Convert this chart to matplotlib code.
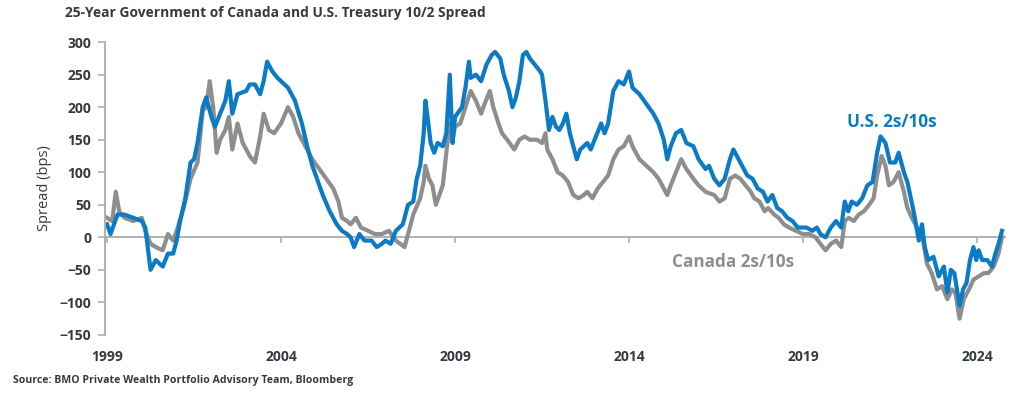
import matplotlib.pyplot as plt
import numpy as np

# decimal years / spread in bps
us_years = [1999.0, 1999.1, 1999.3, 1999.5, 1999.75, 2000.0, 2000.1, 2000.25, 2000.4, 2000.6,
            2000.75, 2000.9, 2001.0, 2001.1, 2001.25, 2001.4, 2001.5, 2001.6, 2001.75, 2001.85,
            2002.0, 2002.1, 2002.25, 2002.4, 2002.5, 2002.6, 2002.75, 2003.0, 2003.1, 2003.25,
            2003.4, 2003.5, 2003.6, 2003.75, 2003.9, 2004.0, 2004.2, 2004.4, 2004.6, 2004.75,
            2004.9, 2005.0, 2005.2, 2005.4, 2005.6, 2005.75, 2005.9, 2006.0, 2006.1, 2006.25,
            2006.4, 2006.6, 2006.75, 2006.9, 2007.0, 2007.15, 2007.3, 2007.5, 2007.65, 2007.8,
            2007.9, 2008.0, 2008.1, 2008.15, 2008.2, 2008.3, 2008.4, 2008.5, 2008.65, 2008.75,
            2008.85, 2008.93, 2009.0, 2009.2, 2009.3, 2009.4, 2009.45, 2009.6, 2009.75, 2009.9,
            2010.05, 2010.15, 2010.3, 2010.4, 2010.55, 2010.65, 2010.75, 2010.85, 2010.95, 2011.05,
            2011.15, 2011.3, 2011.45, 2011.5, 2011.6, 2011.7, 2011.8, 2011.9, 2012.0, 2012.1,
            2012.2, 2012.3, 2012.4, 2012.5, 2012.6, 2012.8, 2012.9, 2013.05, 2013.2, 2013.3,
            2013.4, 2013.55, 2013.7, 2013.85, 2014.0, 2014.1, 2014.3, 2014.5, 2014.7, 2014.85,
            2015.0, 2015.1, 2015.2, 2015.35, 2015.5, 2015.65, 2015.85, 2016.0, 2016.2, 2016.3,
            2016.45, 2016.6, 2016.75, 2016.9, 2017.0, 2017.1, 2017.25, 2017.4, 2017.55, 2017.7,
            2017.85, 2017.98, 2018.12, 2018.26, 2018.4, 2018.55, 2018.7, 2018.85, 2019.0, 2019.1,
            2019.27, 2019.4, 2019.5, 2019.65, 2019.8, 2019.95, 2020.1, 2020.2, 2020.3, 2020.4,
            2020.55, 2020.7, 2020.85, 2021.0, 2021.13, 2021.23, 2021.37, 2021.5, 2021.65, 2021.75,
            2021.9, 2022.0, 2022.1, 2022.18, 2022.28, 2022.33, 2022.42, 2022.5, 2022.6, 2022.75,
            2022.9, 2023.05, 2023.15, 2023.25, 2023.35, 2023.5, 2023.6, 2023.7, 2023.8, 2023.9,
            2023.98, 2024.05, 2024.15, 2024.3, 2024.43, 2024.53, 2024.62, 2024.72]
us_spread = [20, 5, 35, 35, 30, 25, 15, -50, -35, -45,
             -25, -25, -5, 25, 60, 115, 120, 145, 200, 215,
             185, 170, 190, 210, 240, 190, 220, 225, 235, 235,
             220, 240, 270, 255, 245, 240, 230, 210, 175, 140,
             110, 95, 65, 40, 20, 10, 5, 0, -15, 5,
             -5, -5, -15, -10, -5, -10, 10, 20, 50, 55,
             90, 110, 160, 210, 190, 145, 130, 145, 140, 160,
             250, 145, 185, 200, 230, 270, 245, 250, 240, 265,
             280, 285, 275, 250, 225, 200, 215, 240, 280, 285,
             275, 265, 255, 250, 210, 165, 185, 170, 165, 175,
             190, 160, 140, 120, 135, 145, 135, 155, 175, 160,
             175, 225, 240, 235, 255, 230, 220, 205, 190, 175,
             150, 120, 140, 160, 165, 145, 140, 120, 105, 110,
             90, 80, 90, 120, 135, 125, 110, 95, 90, 75,
             70, 55, 65, 45, 40, 30, 25, 15, 15, 15,
             10, 15, 5, 0, 15, 25, 15, 55, 40, 55,
             50, 60, 80, 85, 130, 155, 145, 115, 115, 130,
             100, 85, 60, 40, 10, -5, 20, -15, -35, -30,
             -60, -45, -85, -50, -55, -105, -80, -70, -35, -15,
             -35, -20, -35, -35, -45, -25, -10, 10]

can_years = [1999.0, 1999.15, 1999.25, 1999.35, 1999.5, 1999.75, 2000.0, 2000.1, 2000.25, 2000.4,
             2000.6, 2000.75, 2000.9, 2001.0, 2001.2, 2001.4, 2001.6, 2001.75, 2001.85, 2001.95,
             2002.05, 2002.15, 2002.25, 2002.4, 2002.5, 2002.6, 2002.75, 2002.9, 2003.1, 2003.25,
             2003.4, 2003.5, 2003.65, 2003.8, 2004.0, 2004.2, 2004.35, 2004.5, 2004.7, 2004.9,
             2005.1, 2005.3, 2005.5, 2005.65, 2005.75, 2005.9, 2006.0, 2006.15, 2006.3, 2006.5,
             2006.7, 2006.9, 2007.1, 2007.3, 2007.55, 2007.7, 2007.8, 2008.0, 2008.1, 2008.15,
             2008.25, 2008.35, 2008.45, 2008.55, 2008.65, 2008.75, 2008.85, 2008.93, 2009.0, 2009.15,
             2009.3, 2009.45, 2009.6, 2009.75, 2009.85, 2010.0, 2010.1, 2010.25, 2010.35, 2010.5,
             2010.7, 2010.85, 2011.0, 2011.15, 2011.35, 2011.5, 2011.6, 2011.65, 2011.8, 2011.95,
             2012.1, 2012.25, 2012.4, 2012.55, 2012.7, 2012.8, 2012.95, 2013.1, 2013.25, 2013.4,
             2013.55, 2013.7, 2013.85, 2014.0, 2014.1, 2014.3, 2014.5, 2014.7, 2014.85, 2015.0,
             2015.1, 2015.2, 2015.35, 2015.5, 2015.65, 2015.85, 2016.0, 2016.2, 2016.45, 2016.6,
             2016.75, 2016.9, 2017.05, 2017.2, 2017.35, 2017.5, 2017.6, 2017.75, 2017.9, 2018.0,
             2018.17, 2018.3, 2018.45, 2018.6, 2018.8, 2019.0, 2019.17, 2019.36, 2019.5, 2019.65,
             2019.8, 2019.95, 2020.1, 2020.2, 2020.32, 2020.46, 2020.6, 2020.75, 2020.9, 2021.03,
             2021.13, 2021.26, 2021.37, 2021.47, 2021.6, 2021.75, 2021.9, 2022.0, 2022.13, 2022.28,
             2022.42, 2022.56, 2022.7, 2022.85, 2023.0, 2023.15, 2023.28, 2023.38, 2023.5, 2023.62,
             2023.77, 2023.9, 2024.05, 2024.2, 2024.33, 2024.48, 2024.62, 2024.72]
can_spread = [30, 25, 70, 40, 30, 25, 30, 10, -10, -15,
              -20, 5, -5, 10, 45, 90, 115, 195, 200, 240,
              200, 130, 150, 165, 185, 135, 175, 145, 125, 115,
              155, 190, 165, 160, 175, 200, 185, 160, 140, 120,
              105, 90, 75, 55, 30, 25, 20, 30, 15, 10,
              5, 5, 10, -5, -15, 15, 35, 60, 85, 110,
              90, 80, 50, 65, 80, 130, 175, 150, 170, 175,
              200, 225, 210, 190, 205, 225, 200, 175, 160, 150,
              135, 150, 155, 150, 150, 145, 160, 135, 120, 100,
              95, 85, 65, 60, 65, 70, 60, 75, 85, 95,
              120, 135, 140, 155, 140, 120, 110, 100, 90, 75,
              65, 80, 100, 120, 105, 90, 80, 70, 65, 55,
              60, 90, 95, 90, 80, 70, 60, 55, 40, 45,
              35, 30, 20, 15, 10, 5, 5, 0, -10, -20,
              -10, -5, -15, 25, 30, 25, 35, 40, 50, 60,
              95, 125, 110, 80, 85, 100, 70, 45, 30, 15,
              5, -40, -55, -80, -75, -95, -80, -85, -125, -95,
              -80, -65, -60, -55, -55, -45, -25, 0]

year_ticks = [1999, 2004, 2009, 2014, 2019, 2024]
spread_ticks = [300, 250, 200, 150, 100, 50, 0, -50, -100, -150]

blue = "#0a7bc4"
grey = "#8e8e8e"
axis_grey = "#b0b0b0"
text_col = "#333a40"

plt.rcParams['font.family'] = ['Open Sans', 'DejaVu Sans']

fig = plt.figure(figsize=(10.17, 3.94), dpi=100)
ax = fig.add_axes([0.1032, 0.150, 0.8848, 0.743])

ax.plot(can_years, can_spread, color=grey, linewidth=3.0, solid_joinstyle="round")
ax.plot(us_years, us_spread, color=blue, linewidth=3.0, solid_joinstyle="round")

ax.set_xlim(1998.94, 2024.8)
ax.set_ylim(-150, 300)

# spines: left axis plus zero line carrying the year ticks
ax.spines['top'].set_visible(False)
ax.spines['right'].set_visible(False)
ax.spines['left'].set_color(axis_grey)
ax.spines['left'].set_linewidth(1.4)
ax.spines['bottom'].set_position(('data', 0))
ax.spines['bottom'].set_color(axis_grey)
ax.spines['bottom'].set_linewidth(1.4)
ax.spines['bottom'].set_zorder(0)

ax.set_xticks(year_ticks)
ax.set_xticklabels([str(y) for y in year_ticks])
ax.set_yticks(spread_ticks)
ax.tick_params(axis='x', direction='out', length=4, width=1.2, color=axis_grey,
               pad=77, labelsize=10, labelcolor=text_col)
ax.tick_params(axis='y', direction='out', length=5, width=1.2, color=axis_grey,
               pad=5, labelsize=10, labelcolor=text_col)
for lab in ax.get_xticklabels() + ax.get_yticklabels():
    lab.set_fontweight('bold')

ax.set_ylabel("Spread (bps)", fontsize=10.5, color=text_col, labelpad=5)

ax.text(2020.27, 177, "U.S. 2s/10s", color=blue, fontsize=12.3, fontweight='bold',
        ha='left', va='center')
ax.text(2015.24, -38, "Canada 2s/10s", color=grey, fontsize=12.3, fontweight='bold',
        ha='left', va='center')

fig.text(65 / 1017, 1 - 13 / 394, "25-Year Government of Canada and U.S. Treasury 10/2 Spread",
         fontsize=9.9, fontweight='bold', color=text_col, ha='left', va='center')
fig.text(13 / 1017, 1 - 381 / 394, "Source: BMO Private Wealth Portfolio Advisory Team, Bloomberg",
         fontsize=7.6, fontweight='bold', color=text_col, ha='left', va='center')

fig.savefig("out.png", dpi=100)
